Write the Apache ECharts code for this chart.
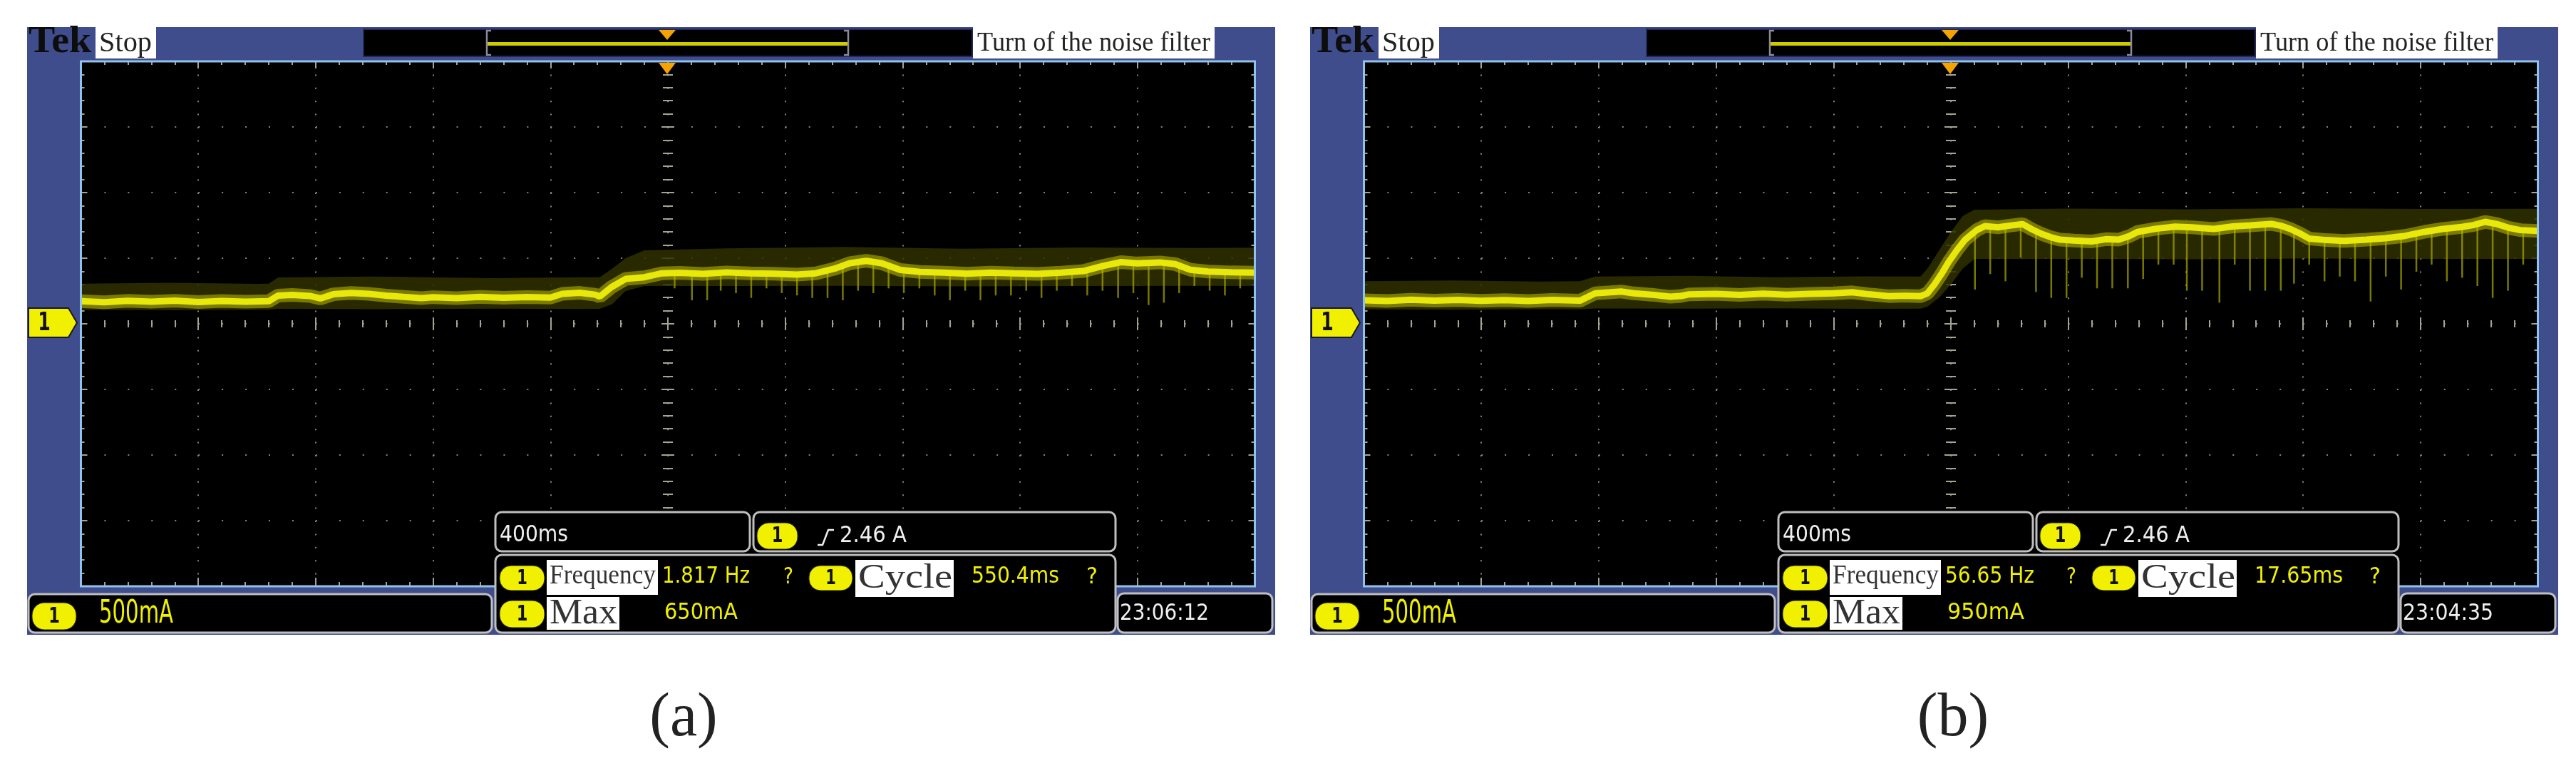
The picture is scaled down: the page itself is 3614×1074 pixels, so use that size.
<!DOCTYPE html>
<html><head><meta charset="utf-8">
<script src="https://cdn.jsdelivr.net/npm/echarts@6/dist/echarts.min.js"></script>
<style>html,body{margin:0;padding:0;background:#fff}#c{width:3614px;height:1074px}</style>
</head><body><div id="c"></div>
<script>
// ---------- axis scale (10 div x 400 ms, 8 div x 500 mA) ----------
const T_MIN = -2000, T_MAX = 2000, T_DIV = 400;
const I_MIN = -2000, I_MAX = 2000, I_DIV = 500;

// ---------- panel (a) ----------
const traceA_t  = [-2000,-1920,-1840,-1760,-1680,-1600,-1520,-1440,-1360,-1328,-1280,-1220,-1184,-1140,-1080,-1020,-960,-900,-840,-800,-720,-640,-560,-480,-400,-360,-300,-248,-232,-192,-144,-80,-20,40,120,200,280,360,440,504,568,620,676,728,792,860,940,1020,1100,1180,1260,1340,1416,1480,1544,1600,1676,1728,1780,1840,1920,2000];
const traceA_mA = [172,165,175,168,176,166,174,168,172,215,220,212,193,225,235,228,215,205,196,203,196,205,198,204,200,228,236,222,208,280,342,355,385,388,380,392,385,382,375,385,420,462,480,462,410,395,390,382,390,384,380,390,402,440,470,460,468,455,412,398,392,390];
const bandA_t  = [-2000,-1700,-1400,-1360,-1328,-1000,-600,-300,-232,-190,-144,-80,200,600,1000,1400,1800,2000];
const bandA_lo = [107,105,108,107,114,112,115,113,114,150,250,288,288,290,286,288,290,288];
const bandA_hi = [306,312,305,306,353,360,348,355,355,420,500,560,575,585,572,582,578,580];
const spikeA_t  = [23,82,134,180,232,284,336,388,440,492,544,596,648,700,752,804,857,909,961,1013,1065,1117,1169,1221,1273,1325,1377,1429,1481,1534,1586,1638,1690,1742,1794,1846,1898,1950];
const spikeA_lo = [270,179,179,252,234,197,270,234,216,197,197,179,252,234,270,234,270,216,179,252,179,216,216,252,197,252,288,216,252,197,234,143,161,234,288,252,216,270];
const spikeA_hi = [388,386,382,388,390,385,382,380,378,383,405,450,470,475,440,405,395,392,388,384,388,388,385,382,382,388,396,405,440,465,465,464,466,445,405,398,393,391];

// ---------- panel (b) ----------
const traceB_t  = [-2000,-1920,-1840,-1760,-1680,-1600,-1520,-1440,-1360,-1264,-1212,-1160,-1124,-1080,-1020,-956,-920,-892,-800,-720,-640,-560,-480,-400,-336,-280,-208,-160,-104,-80,-56,-32,-8,20,48,88,116,160,200,244,276,308,340,372,420,480,528,572,608,636,700,764,820,896,960,1020,1092,1128,1156,1188,1220,1280,1340,1416,1480,1548,1612,1676,1740,1780,1820,1860,1900,1940,2000];
const traceB_mA = [180,174,183,176,182,175,181,174,182,176,232,240,246,232,222,206,212,224,228,220,230,222,228,232,240,225,210,214,210,232,300,380,470,560,640,714,745,735,748,760,720,686,660,641,635,628,645,641,668,700,725,741,735,723,742,750,761,745,723,690,650,638,632,641,652,670,700,723,738,752,777,760,732,714,708];
const bandB_t  = [-2000,-1700,-1400,-1264,-1212,-900,-600,-300,-104,-80,-40,0,40,80,400,800,1200,1600,2000];
const bandB_lo = [110,108,112,110,117,115,118,114,116,130,200,300,420,495,495,492,497,495,495];
const bandB_hi = [325,330,322,325,360,365,355,362,360,420,560,700,820,870,878,872,880,875,877];
const spikeB_t  = [82,134,186,238,290,342,394,446,498,550,603,655,707,759,804,856,915,967,1019,1071,1124,1169,1221,1273,1325,1377,1430,1482,1534,1586,1638,1690,1742,1794,1846,1898,1950];
const spikeB_lo = [261,379,324,505,243,197,197,351,270,270,270,342,451,451,252,252,161,451,252,252,252,306,451,324,360,324,170,360,261,397,451,324,351,288,197,252,451];
const spikeB_hi = [708,745,740,758,700,660,640,632,628,640,665,710,728,740,738,728,728,744,750,758,748,720,650,636,634,638,645,655,668,690,715,725,738,765,768,740,712];

// ---------- texts ----------
const captions   = ['(a)', '(b)'];
const freqText   = ['1.817 Hz', '56.65 Hz'];
const cycleText  = ['550.4ms', '17.65ms'];
const maxText    = ['650mA', '950mA'];
const clockText  = ['23:06:12', '23:04:35'];
const scaleText  = '500mA';
const timeText   = '400ms';
const trigText   = '2.46 A';
const headerText = 'Turn of the noise filter';

const panels = [
  {trace:[traceA_t,traceA_mA], band:[bandA_t,bandA_lo,bandA_hi], spike:[spikeA_t,spikeA_lo,spikeA_hi]},
  {trace:[traceB_t,traceB_mA], band:[bandB_t,bandB_lo,bandB_hi], spike:[spikeB_t,spikeB_lo,spikeB_hi]}
];

// ---------- styling ----------
const BLUE = '#404d8c', YEL = '#f0f000', WHITE_T = '#f0f0f0';
const TICK = '#a4a492', DOT = '#85857a';
const SANS = '"DejaVu Sans"', SERIF = '"Liberation Serif"';
const PANEL_DX = 1800;
const GRID = {left:113.5, top:86, width:1647, height:736};

const mctx = document.createElement('canvas').getContext('2d');
function T(x, y, text, font, fill, w, align) {
  mctx.font = font;
  const mw = mctx.measureText(text).width;
  return {type:'text', x:x, y:y, scaleX: w ? w / mw : 1, z:120, silent:true,
    style:{text:text, font:font, fill:fill, align:align || 'left', verticalAlign:'middle'}};
}
function R(x, y, w, h, fill, z, extra) {
  return Object.assign({type:'rect', shape:{x:x, y:y, width:w, height:h}, style:{fill:fill}, z:z, silent:true}, extra || {});
}
function box(x, y, w, h) {
  return {type:'rect', shape:{x:x, y:y, width:w, height:h, r:9}, style:{fill:'#000', stroke:'#bfbfbf', lineWidth:3}, z:105, silent:true};
}
function pill(x, y, w, h) {
  return [
    {type:'rect', shape:{x:x, y:y, width:w, height:h, r:h/2.2}, style:{fill:YEL, stroke:'#2a2a00', lineWidth:1}, z:110, silent:true},
    {type:'text', x:x + w/2, y:y + h/2 + 1, scaleX:0.75, z:111, silent:true,
      style:{text:'1', font:'bold ' + Math.round(h*0.8) + 'px ' + SANS, fill:'#111', align:'center', verticalAlign:'middle'}}
  ];
}

function panelGraphics(p) {
  const d = p * PANEL_DX;
  const e = [];
  e.push(R(38+d, 38, 1751, 852, BLUE, -10));
  e.push(R(GRID.left+d, GRID.top, GRID.width, GRID.height, '#000', -9));
  e.push({type:'rect', shape:{x:GRID.left+d, y:GRID.top, width:GRID.width, height:GRID.height}, style:{fill:'none', stroke:'#8fc3ee', lineWidth:3}, z:60, silent:true});
  // header
  e.push(T(40+d, 60, 'Tek', 'bold 52px ' + SERIF, '#0d0d0d', 88));
  e.push(R(134+d, 38, 85, 44, '#fff', 100));
  e.push(T(139+d, 61, 'Stop', '40px ' + SERIF, '#222', 74));
  e.push(R(510+d, 41, 854, 38, '#000', 100, {style:{fill:'#000', stroke:'#232a5a', lineWidth:2}}));
  e.push(R(684+d, 59, 506, 5, '#cccc00', 101));
  e.push({type:'polyline', shape:{points:[[689+d,43],[683+d,43],[683+d,77],[689+d,77]]}, style:{stroke:'#8a8a9a', lineWidth:2.5, fill:'none'}, z:102, silent:true});
  e.push({type:'polyline', shape:{points:[[1184+d,43],[1190+d,43],[1190+d,77],[1184+d,77]]}, style:{stroke:'#8a8a9a', lineWidth:2.5, fill:'none'}, z:102, silent:true});
  e.push({type:'polygon', shape:{points:[[924+d,42],[948+d,42],[936+d,56]]}, style:{fill:'#f5a300'}, z:103, silent:true});
  e.push({type:'polygon', shape:{points:[[924+d,88],[948+d,88],[936+d,104]]}, style:{fill:'#f5a300'}, z:103, silent:true});
  e.push(R(1365+d, 38, 339, 44, '#fff', 100));
  e.push(T(1371+d, 61, headerText, '38px ' + SERIF, '#222', 327));
  // ground marker
  e.push({type:'polygon', shape:{points:[[40+d,432],[96+d,432],[108+d,452.5],[96+d,473],[40+d,473]]}, style:{fill:YEL, stroke:'#1a1a1a', lineWidth:2}, z:100, silent:true});
  e.push({type:'text', x:62+d, y:454, scaleX:0.7, z:101, silent:true, style:{text:'1', font:'bold 36px ' + SANS, fill:'#111', align:'center', verticalAlign:'middle'}});
  // bottom boxes
  e.push(box(40+d, 833, 650, 54)); e.push(...pill(45+d, 845, 62, 38));
  e.push(T(139+d, 862, scaleText, '44px ' + SANS, YEL, 104));
  e.push(box(695+d, 718, 357, 55));
  e.push(T(701+d, 751, timeText, '32px ' + SANS, WHITE_T, 96));
  e.push(box(1057+d, 718, 508, 55)); e.push(...pill(1062+d, 733, 57, 37));
  e.push({type:'polyline', shape:{points:[[1147+d,764],[1154+d,764],[1162+d,743],[1170+d,743]]}, style:{stroke:WHITE_T, lineWidth:2.5, fill:'none'}, z:120, silent:true});
  e.push(T(1178+d, 752, trigText, '32px ' + SANS, WHITE_T, 94));
  e.push(box(695+d, 778, 870, 109));
  e.push(...pill(701+d, 793, 63, 35));
  e.push(R(767+d, 785, 156, 49, '#fff', 112));
  e.push(T(771+d, 808, 'Frequency', '37px ' + SERIF, '#333', 149));
  e.push(T(929+d, 809, freqText[p], '32px ' + SANS, YEL, p ? 125 : 123));
  e.push(T(1099+d, 810, '?', '32px ' + SANS, YEL, 14));
  e.push(...pill(1135+d, 793, 61, 35));
  e.push(R(1200+d, 785, 138, 52, '#fff', 112));
  e.push(T(1204+d, 811, 'Cycle', '48px ' + SERIF, '#333', 132));
  e.push(T(1363+d, 809, cycleText[p], '32px ' + SANS, YEL, p ? 124 : 123));
  e.push(T(1524+d, 810, '?', '32px ' + SANS, YEL, 16));
  e.push(...pill(701+d, 842, 63, 38));
  e.push(R(767+d, 837, 102, 46, '#fff', 112));
  e.push(T(771+d, 861, 'Max', '50px ' + SERIF, '#333', 95));
  e.push(T(932+d, 860, maxText[p], '32px ' + SANS, YEL, p ? 108 : 103));
  e.push(box(1568+d, 832, 217, 55));
  e.push(T(1571+d, 861, clockText[p], '32px ' + SANS, WHITE_T, p ? 127 : 125));
  // caption
  e.push({type:'text', x:(p ? 2740 : 959), y:1008, z:120, silent:true, style:{text:captions[p], font:'86px ' + SERIF, fill:'#222', align:'center', verticalAlign:'middle'}});
  return e;
}

function edgeAxis(g, dim, position, inside, major, minor, split, onZero) {
  const isX = dim === 'x';
  const tickLS = {color:TICK, width:2};
  const a = {gridIndex:g, type:'value', position:position,
    min: isX ? T_MIN : I_MIN, max: isX ? T_MAX : I_MAX, interval: isX ? T_DIV : I_DIV,
    axisLine:{show:false, onZero:!!onZero}, axisLabel:{show:false},
    axisTick:{show:true, inside:inside, length:major, lineStyle:tickLS},
    minorTick:{show:true, splitNumber:5, length:minor, lineStyle:tickLS},
    splitLine:{show:!!split, lineStyle:{color:DOT, width:2, type: isX ? [2,16.4] : [2,30.94]}},
    minorSplitLine:{show:false}, splitArea:{show:false}};
  if (onZero) a.axisLine.onZeroAxisIndex = 4*g;
  return a;
}

const xAxes = [], yAxes = [], series = [], grids = [];
panels.forEach((pd, g) => {
  grids.push({left:GRID.left + g*PANEL_DX, top:GRID.top, width:GRID.width, height:GRID.height, containLabel:false, outerBoundsMode:'none', show:false});
  xAxes.push(edgeAxis(g,'x','bottom',true,12,6,true,false));
  xAxes.push(edgeAxis(g,'x','top',true,10,5,false,false));
  xAxes.push(edgeAxis(g,'x','bottom',true,9,5,false,true));
  xAxes.push(edgeAxis(g,'x','bottom',false,9,5,false,true));
  yAxes.push(edgeAxis(g,'y','left',true,9,5,true,false));
  yAxes.push(edgeAxis(g,'y','right',true,9,5,false,false));
  yAxes.push(edgeAxis(g,'y','left',true,9,7,false,true));
  yAxes.push(edgeAxis(g,'y','left',false,9,7,false,true));
  const ax = {xAxisIndex:4*g, yAxisIndex:4*g};
  const [bt, blo, bhi] = pd.band;
  series.push(Object.assign({type:'custom', silent:true, z:1, clip:true,
    dimensions:['t','lo','hi'], encode:{x:'t', y:['lo','hi']},
    data: bt.map((t,i) => [t, blo[i], bhi[i]]),
    renderItem: (params, api) => {
      if (params.dataIndex !== 0) return null;
      const pts = [];
      for (let i = 0; i < bt.length; i++) pts.push(api.coord([bt[i], bhi[i]]));
      for (let i = bt.length - 1; i >= 0; i--) pts.push(api.coord([bt[i], blo[i]]));
      return {type:'polygon', shape:{points:pts}, style:{fill:'rgba(48,48,0,0.85)'}};
    }}, ax));
  const [st, slo, shi] = pd.spike;
  series.push(Object.assign({type:'custom', silent:true, z:2, clip:true,
    dimensions:['t','lo','hi'], encode:{x:'t', y:['lo','hi']},
    data: st.map((t,i) => [t, slo[i], shi[i]]),
    renderItem: (params, api) => {
      const a = api.coord([api.value(0), api.value(2)]);
      const b = api.coord([api.value(0), api.value(1)]);
      return {type:'line', shape:{x1:a[0], y1:a[1], x2:b[0], y2:b[1]}, style:{stroke:'rgba(160,160,0,0.75)', lineWidth:2.5}};
    }}, ax));
  const [tt, tv] = pd.trace;
  const tdata = tt.map((t,i) => [t, tv[i]]);
  series.push(Object.assign({type:'line', silent:true, z:3, symbol:'none', showSymbol:false, data:tdata,
    lineStyle:{color:'rgba(190,190,0,0.55)', width:19}}, ax));
  series.push(Object.assign({type:'line', silent:true, z:4, symbol:'none', showSymbol:false, data:tdata,
    lineStyle:{color:'#e8e80a', width:9}}, ax));
});

const chart = echarts.init(document.getElementById('c'), null, {renderer:'canvas', width:3614, height:1074});
chart.setOption({
  animation:false,
  backgroundColor:'#ffffff',
  grid: grids, xAxis: xAxes, yAxis: yAxes, series: series,
  graphic: {elements: [].concat(panelGraphics(0), panelGraphics(1))}
});
</script></body></html>
